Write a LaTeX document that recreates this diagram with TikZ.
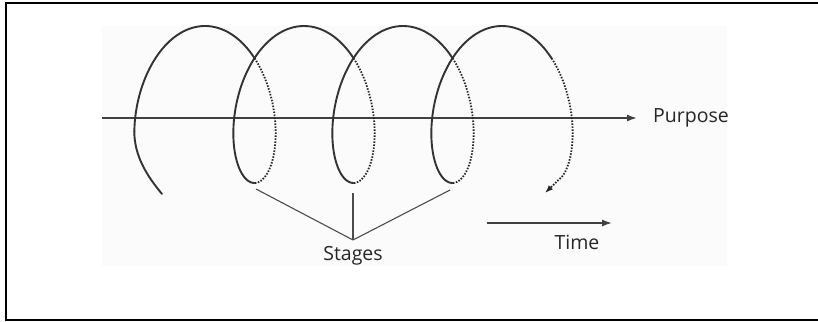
\documentclass[tikz,border=0pt]{standalone}
\usepackage{fontspec}
\setmainfont{Open Sans}
\usetikzlibrary{arrows.meta}
\tikzset{
  front/.style={draw=black!80, line width=1.9pt, line cap=round},
  back/.style={draw=black!85, line width=1.8pt, dash pattern=on 1.5pt off 1.5pt},
  axisline/.style={draw=black!75, line width=1.6pt, -{Latex[length=10pt,width=7pt]}},
  pointer/.style={draw=black!70, line width=1.1pt},
  lbl/.style={inner sep=0pt, font=\fontsize{19.5}{22}\selectfont, text=black!85},
}
\begin{document}
\begin{tikzpicture}[x=1pt, y=-1pt]
\useasboundingbox (0,0) rectangle (818,321);
\fill[black!1.5] (102,26) rectangle (727,266);
\draw[line width=2pt] (830,3) -- (6,3) -- (6,319.5) -- (830,319.5);

% axis
\coordinate (axL) at (102,118);
\coordinate (axR) at (637,118);
\draw[axisline] (axL) -- (axR);
\node[lbl, anchor=base west] (purpose) at (653,122) {Purpose};

% spiral
\coordinate (tail) at (162,194);
\coordinate (start) at (134.3,131.3);
\coordinate (tip) at (545,193);
\draw[front] (tail) .. controls (147,176) and (134.3,156) .. (start);
\draw[front] plot[domain=-110:54, samples=70, variable=\t] ({205+0.275*\t+43*sin(\t)},{104.5-78.5*cos(\t)});
\draw[back] plot[domain=54:180, samples=40, variable=\t] ({205+0.275*\t+43*sin(\t)},{104.5-78.5*cos(\t)});
\draw[front] plot[domain=180:414, samples=70, variable=\t] ({205+0.275*\t+43*sin(\t)},{104.5-78.5*cos(\t)});
\draw[back] plot[domain=414:540, samples=40, variable=\t] ({205+0.275*\t+43*sin(\t)},{104.5-78.5*cos(\t)});
\draw[front] plot[domain=540:774, samples=70, variable=\t] ({205+0.275*\t+43*sin(\t)},{104.5-78.5*cos(\t)});
\draw[back] plot[domain=774:900, samples=40, variable=\t] ({205+0.275*\t+43*sin(\t)},{104.5-78.5*cos(\t)});
\draw[front] plot[domain=900:1134, samples=70, variable=\t] ({205+0.275*\t+43*sin(\t)},{104.5-78.5*cos(\t)});
\draw[back, -{Latex[length=8pt,width=6pt]}] plot[domain=1134:1236, samples=40, variable=\t] ({205+0.275*\t+43*sin(\t)},{104.5-78.5*cos(\t)}) -- (tip);

% stages
\coordinate (s1) at (256,189);
\coordinate (s2) at (353,193);
\coordinate (s3) at (450,190);
\coordinate (hub) at (353,240);
\draw[pointer] (s1) -- (hub);
\draw[pointer] (s2) -- (hub);
\draw[pointer] (s3) -- (hub);
\node[lbl, anchor=base] (stages) at (353,260) {Stages};

% time
\coordinate (t0) at (487,223);
\coordinate (t1) at (612,223);
\draw[axisline, line width=1.4pt] (t0) -- (t1);
\node[lbl, anchor=base] (time) at (577,249) {Time};
\end{tikzpicture}
\end{document}
